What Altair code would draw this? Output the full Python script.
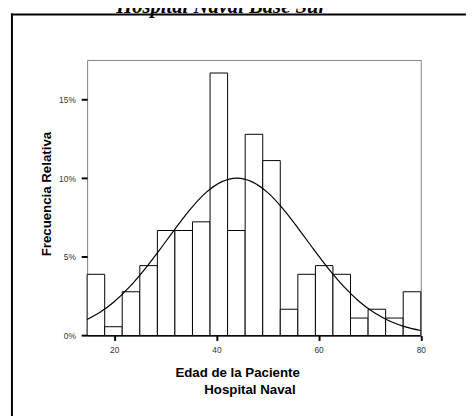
import altair as alt
import pandas as pd

# ---- data ----
bin_edges = [14.7, 18.14, 21.57, 25.01, 28.45, 31.88, 35.32, 38.76, 42.19, 45.63,
             49.07, 52.5, 55.94, 59.38, 62.81, 66.25, 69.69, 73.12, 76.56, 80.0]
rel_freq = [3.89, 0.56, 2.78, 4.44, 6.67, 6.67, 7.22, 16.67, 6.67, 12.78,
            11.11, 1.67, 3.89, 4.44, 3.89, 1.11, 1.67, 1.11, 2.78]
curve_x = [14.7, 17, 20, 23, 26, 29, 32, 35, 38, 41, 44, 47, 50, 53, 56, 59,
           62, 65, 68, 71, 74, 77, 80]
curve_y = [1.02, 1.43, 2.15, 3.09, 4.22, 5.49, 6.81, 8.06, 9.09, 9.76, 10.0, 9.76,
           9.09, 8.06, 6.81, 5.49, 4.22, 3.09, 2.15, 1.43, 0.91, 0.55, 0.32]
x_ticks = [20, 40, 60, 80]
y_ticks = [0, 5, 10, 15]
title_text = "Hospital Naval Base Sur"
x_title_1 = "Edad de la Paciente"
x_title_2 = "Hospital Naval"
y_title = "Frecuencia Relativa"

bars_df = pd.DataFrame({"x": bin_edges[:-1], "x2": bin_edges[1:], "y": rel_freq})
curve_df = pd.DataFrame({"x": curve_x, "y": curve_y})

FONT = "Liberation Sans"
H = 280.4

x_scale = alt.Scale(domain=[14.7, 80], nice=False, zero=False)
y_scale = alt.Scale(domain=[0, 17.5], nice=False, zero=True)

x_axis = alt.Axis(
    values=x_ticks, format="d", grid=False, labelFlush=False, title=None,
    tickSize=5, tickWidth=2, tickColor="black",
    domainColor="black", domainWidth=1,
    labelFont=FONT, labelFontSize=8.5, labelColor="#333", labelPadding=5,
)
y_axis = alt.Axis(
    values=y_ticks, labelExpr="datum.value + '%'", grid=False, domain=False,
    title=y_title, titleX=-37, titleY=136, titleAngle=270, titleAlign="center",
    titleBaseline="alphabetic", titleFont=FONT, titleFontSize=13.5,
    titleFontWeight="bold", titleColor="black",
    tickSize=6, tickWidth=2, tickColor="black",
    labelFont=FONT, labelFontSize=8.5, labelColor="#333", labelPadding=6,
)

bars = alt.Chart(bars_df).mark_bar(fill="white", stroke="black", strokeWidth=1).encode(
    x=alt.X("x:Q", scale=x_scale, axis=x_axis),
    x2="x2:Q",
    y=alt.Y("y:Q", scale=y_scale, axis=y_axis),
    y2=alt.datum(0),
)

curve = alt.Chart(curve_df).mark_line(color="black", strokeWidth=1.2, interpolate="monotone").encode(
    x=alt.X("x:Q", scale=x_scale, axis=x_axis),
    y=alt.Y("y:Q", scale=y_scale, axis=y_axis),
)

one = pd.DataFrame({"t": [title_text], "l1": [x_title_1], "l2": [x_title_2]})
title = alt.Chart(one).mark_text(
    font="Liberation Serif", fontSize=21, fontWeight="bold", fontStyle="italic",
    align="center", baseline="alphabetic", color="black",
).encode(text="t:N", x=alt.value(136.5), y=alt.value(-47.3))

xt1 = alt.Chart(one).mark_text(
    font=FONT, fontSize=13.5, fontWeight="bold", align="left",
    baseline="alphabetic", color="black",
).encode(text="l1:N", x=alt.value(89.8), y=alt.value(H + 42.3))
xt2 = alt.Chart(one).mark_text(
    font=FONT, fontSize=13.5, fontWeight="bold", align="left",
    baseline="alphabetic", color="black",
).encode(text="l2:N", x=alt.value(119.2), y=alt.value(H + 59.6))

box_left = alt.Chart(one).mark_rule(color="black", strokeWidth=2).encode(
    x=alt.value(-76.5), y=alt.value(-47.3), y2=alt.value(380)
)
box_top = alt.Chart(one).mark_rule(color="black", strokeWidth=2).encode(
    x=alt.value(-77.5), x2=alt.value(400), y=alt.value(-46.3)
)

chart = alt.layer(bars, curve, title, xt1, xt2, box_left, box_top).properties(
    width=339.5, height=H,
    autosize=alt.AutoSizeParams(type="none"),
    padding={"left": 80.5, "top": 49.3, "right": 46, "bottom": 78.3},
).configure_view(stroke="#808080", strokeWidth=1)

chart.save("out.html", embed_options={"renderer": "svg", "actions": False})
